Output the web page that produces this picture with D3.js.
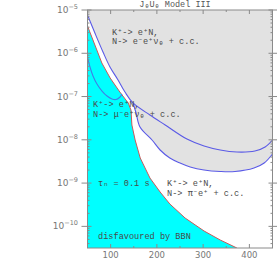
<!DOCTYPE html>
<html><head><meta charset="utf-8">
<script src="https://cdn.jsdelivr.net/npm/d3@7"></script>
<style>body{margin:0;background:#fff}svg{display:block}</style>
</head><body>
<script>
// ---- data (mass in MeV, mixing |U|^2) ----
const bbnMass = [50,66,81,99,120,138,144,146,153,164,185,207,228,261,302,337,373];
const bbnU2   = [4.27e-6,1.55e-6,5.96e-7,2.68e-7,1.27e-7,7.10e-8,4.89e-8,2.20e-8,9.91e-9,3.80e-9,1.31e-9,6.22e-10,3.29e-10,1.56e-10,7.82e-11,4.84e-11,3.16e-11];

const eeMass = [50,66,83.5,98.6,116,131,148.4,185,218,265,302,337,373,412,434,450];
const eeU2   = [7.66e-6,2.94e-6,1.07e-6,4.82e-7,2.41e-7,1.27e-7,7.10e-8,3.74e-8,2.20e-8,1.04e-8,7.19e-9,5.81e-9,5.22e-9,5.51e-9,6.82e-9,9.91e-9];

const piMass = [148.4,155,163.5,189.5,207,228,250,272,302,337,369,410,432,450];
const piU2   = [7.10e-8,4.17e-8,1.98e-8,9.91e-9,5.82e-9,3.80e-9,2.91e-9,2.36e-9,2.00e-9,1.85e-9,1.85e-9,2.23e-9,2.91e-9,4.70e-9];

const muMass = [50,55.4,61.9,70.5,81.4,92.2,103,111.6,119.2,124.6];
const muU2   = [8.20e-7,4.82e-7,2.99e-7,1.95e-7,1.34e-7,1.03e-7,8.77e-8,8.55e-8,9.50e-8,1.15e-7];

const xTicks = [100,200,300,400];
const yTicks = [1e-5,1e-6,1e-7,1e-8,1e-9,1e-10];
const yTickExp = ["-5","-6","-7","-8","-9","-10"];
const title = "J\u2091U\u2091 Model III";

// ---- layout ----
const W = 277, H = 278;
const L = 87.5, R = 272.5, T = 10, B = 248;
const x = d3.scaleLinear().domain([50,450]).range([L,R]);
const y = d3.scaleLog().domain([Math.pow(10,-10.5),1e-5]).range([B,T]);

const svg = d3.select("body").append("svg").attr("width",W).attr("height",H);
svg.append("defs").append("clipPath").attr("id","clip")
  .append("rect").attr("x",L).attr("y",T).attr("width",R-L).attr("height",B-T);

const pts = (m,u) => m.map((d,i)=>[d,u[i]]);
const g = svg.append("g").attr("clip-path","url(#clip)");

// gray excluded region
const eePts = pts(eeMass,eeU2);
const piPts = pts(piMass,piU2);
const grayPoly = eePts.slice(0,7).concat(piPts.slice(1)).concat([[450,1e-5],[50,1e-5]]);
g.append("path").attr("d", d3.line().x(d=>x(d[0])).y(d=>y(d[1]))(grayPoly))
  .attr("fill","#e2e2e2");

// cyan BBN region
const bbnPts = pts(bbnMass,bbnU2);
const cyanPoly = bbnPts.concat([[50,Math.pow(10,-10.5)]]);
g.append("path").attr("d", d3.line().x(d=>x(d[0])).y(d=>y(d[1]))(cyanPoly))
  .attr("fill","#00ffff");

// text annotations
const ann = svg.append("g").attr("font-family","'Liberation Mono','DejaVu Sans Mono',monospace")
  .attr("font-size",8.6).attr("fill","#4a4a4a");
const texts = [
  [112,35,"K\u207A-> e\u207AN,"],
  [112,44,"N-> e\u207Be\u207A\u03BD\u2091 + c.c."],
  [93,107,"K\u207A-> e\u207AN,"],
  [93,117,"N-> \u03BC\u207Be\u207A\u03BD\u2091 + c.c."],
  [98,186,"\u03C4\u2099 = 0.1 s"],
  [167,186,"K\u207A-> e\u207AN,"],
  [167,196,"N-> \u03C0\u207Be\u207A + c.c."],
  [98,239,"disfavoured by BBN"]
];
texts.forEach(t=>ann.append("text").attr("x",t[0]).attr("y",t[1]).text(t[2]));

// lines
g.append("path").attr("d",d3.line().x(d=>x(d[0])).y(d=>y(d[1]))(bbnPts))
  .attr("fill","none").attr("stroke","#c85a5a").attr("stroke-width",1);
g.append("path").attr("d",d3.line().x(d=>x(d[0])).y(d=>y(d[1])).curve(d3.curveCatmullRom)(eePts))
  .attr("fill","none").attr("stroke","#5a5ae6").attr("stroke-width",1.1);
g.append("path").attr("d",d3.line().x(d=>x(d[0])).y(d=>y(d[1])).curve(d3.curveCatmullRom)(piPts))
  .attr("fill","none").attr("stroke","#5a5ae6").attr("stroke-width",1.1);
g.append("path").attr("d",d3.line().x(d=>x(d[0])).y(d=>y(d[1])).curve(d3.curveCatmullRom)(pts(muMass,muU2)))
  .attr("fill","none").attr("stroke","#3f7fe6").attr("stroke-width",1.1);

// frame
const ax = svg.append("g").attr("stroke","#8a8a8a").attr("fill","none");
ax.append("rect").attr("x",L).attr("y",T).attr("width",R-L).attr("height",B-T).attr("stroke-width",1);

d3.range(50,451,50).forEach(v=>{
  const len = v%100===0 ? 4 : 2;
  ax.append("line").attr("x1",x(v)).attr("x2",x(v)).attr("y1",B).attr("y2",B-len);
  ax.append("line").attr("x1",x(v)).attr("x2",x(v)).attr("y1",T).attr("y2",T+len);
});
yTicks.forEach(v=>{
  ax.append("line").attr("x1",L-6).attr("x2",L+4).attr("y1",y(v)).attr("y2",y(v));
  ax.append("line").attr("x1",R-4).attr("x2",R+5).attr("y1",y(v)).attr("y2",y(v));
});
for(let e=-11;e<=-6;e++){
  for(let k=2;k<=9;k++){
    const v=k*Math.pow(10,e);
    if(v<y.domain()[0]||v>y.domain()[1]) continue;
    ax.append("line").attr("x1",L).attr("x2",L+2).attr("y1",y(v)).attr("y2",y(v));
    ax.append("line").attr("x1",R-2).attr("x2",R).attr("y1",y(v)).attr("y2",y(v));
  }
}

// tick labels
const lab = svg.append("g").attr("font-family","'DejaVu Sans',sans-serif").attr("fill","#777");
xTicks.forEach(v=>lab.append("text").attr("x",x(v)).attr("y",258).attr("text-anchor","middle")
  .attr("font-size",8.5).text(v));
yTicks.forEach((v,i)=>{
  const t = lab.append("text").attr("x",78).attr("y",y(v)+3).attr("text-anchor","end").attr("font-size",9);
  t.append("tspan").text("10");
  t.append("tspan").attr("dy",-4).attr("font-size",6.5).text("\u2212"+yTickExp[i].slice(1));
});

// title
svg.append("text").attr("x",175).attr("y",7).attr("text-anchor","middle")
  .attr("font-family","'Liberation Mono','DejaVu Sans Mono',monospace").attr("font-size",8.5)
  .attr("fill","#555").text(title);
</script>
</body></html>
